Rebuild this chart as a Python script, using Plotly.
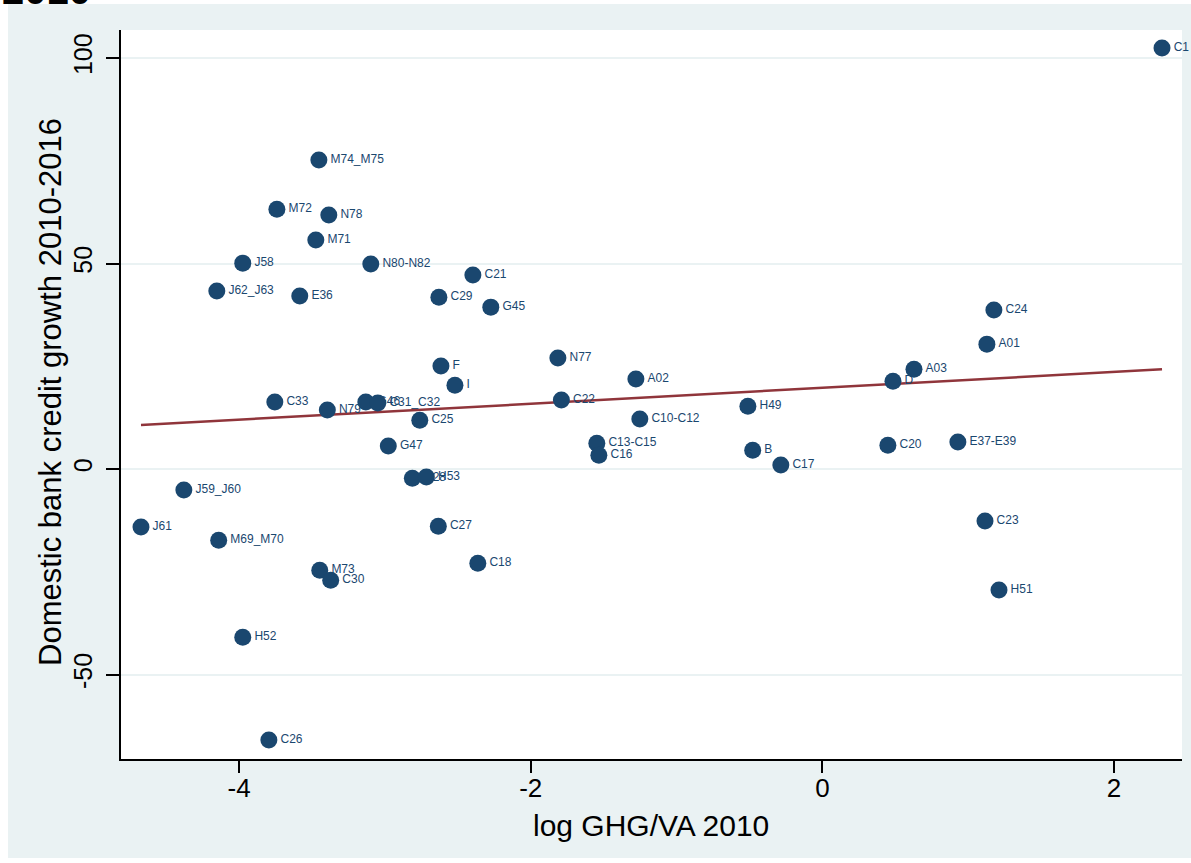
import numpy as np
import plotly.graph_objects as go

labels = ["C1", "M74_M75", "M72", "N78", "M71", "J58", "N80-N82", "C21", "J62_J63", "E36",
          "C29", "G45", "C24", "A01", "N77", "F", "A03", "A02", "D", "I",
          "C33", "G46", "C31_C32", "C22", "N79", "H49", "C25", "C10-C12", "C13-C15", "E37-E39",
          "C20", "G47", "B", "C16", "C17", "C28", "H53", "J59_J60", "C23", "J61",
          "C27", "M69_M70", "C18", "M73", "C30", "H51", "H52", "C26"]
log_ghg_va = [2.329, -3.453, -3.741, -3.385, -3.474, -3.975, -3.097, -2.397, -4.153, -3.584,
              -2.630, -2.274, 1.176, 1.128, -1.814, -2.616, 0.628, -1.279, 0.484, -2.520,
              -3.755, -3.131, -3.049, -1.790, -3.395, -0.511, -2.761, -1.252, -1.547, 0.929,
              0.449, -2.977, -0.478, -1.533, -0.285, -2.812, -2.716, -4.379, 1.115, -4.673,
              -2.634, -4.140, -2.363, -3.447, -3.372, 1.211, -3.975, -3.796]
credit_growth = [102.4, 75.2, 63.2, 61.8, 55.7, 50.1, 49.9, 47.2, 43.3, 42.1,
                 41.8, 39.4, 38.7, 30.4, 27.0, 25.1, 24.3, 21.9, 21.4, 20.4,
                 16.3, 16.3, 16.1, 16.8, 14.4, 15.3, 11.9, 12.2, 6.3, 6.6,
                 5.8, 5.6, 4.6, 3.4, 1.0, -2.2, -1.9, -5.1, -12.6, -14.1,
                 -13.9, -17.3, -22.9, -24.6, -27.0, -29.4, -40.9, -65.9]

x_ticks = [-4, -2, 0, 2]
y_ticks = [-50, 0, 50, 100]

NAVY = "#1A476F"
MAROON = "#90353B"
BG = "#EAF2F3"
FONT = "Arial, Liberation Sans, sans-serif"

xs = np.array(log_ghg_va)
ys = np.array(credit_growth)
slope, intercept = np.polyfit(xs, ys, 1)
fit_x = np.array([xs.min(), xs.max()])
fit_y = intercept + slope * fit_x

fig = go.Figure()
fig.add_trace(go.Scatter(
    x=fit_x, y=fit_y, mode="lines",
    line=dict(color=MAROON, width=2.5), showlegend=False, hoverinfo="skip"))
fig.add_trace(go.Scatter(
    x=log_ghg_va, y=credit_growth, mode="markers+text",
    text=labels, textposition="middle right",
    textfont=dict(family=FONT, size=12, color=NAVY),
    marker=dict(color=NAVY, size=17, line=dict(width=0)),
    cliponaxis=False, showlegend=False))

W, H = 1191, 863
L, R, T, B = 121, 9, 30, 104
pw, ph = W - L - R, H - T - B

def px_x(p):
    return (p - L) / pw

def px_y(p):
    return (H - B - p) / ph

shapes = [
    dict(type="rect", xref="paper", yref="paper", x0=px_x(-5), x1=px_x(W + 5),
         y0=px_y(4), y1=px_y(-5), fillcolor="white", line=dict(width=0), layer="below"),
    dict(type="rect", xref="paper", yref="paper", x0=px_x(-5), x1=px_x(8),
         y0=px_y(H + 5), y1=px_y(-5), fillcolor="white", line=dict(width=0), layer="below"),
    dict(type="rect", xref="paper", yref="paper", x0=px_x(-5), x1=px_x(W + 5),
         y0=px_y(H + 5), y1=px_y(858), fillcolor="white", line=dict(width=0), layer="below"),
]

annotations = [
    dict(text="<b>2010</b>", xref="paper", yref="paper", x=px_x(0), y=px_y(-10),
         xanchor="left", yanchor="middle", showarrow=False,
         font=dict(family=FONT, size=40, color="black")),
    dict(text="log GHG/VA 2010", xref="paper", yref="paper", x=px_x(651), y=px_y(825),
         xanchor="center", yanchor="middle", showarrow=False,
         font=dict(family=FONT, size=30, color="black")),
    dict(text="Domestic bank credit growth 2010-2016", xref="paper", yref="paper",
         x=px_x(50), y=px_y(392), xanchor="center", yanchor="middle", textangle=-90,
         showarrow=False, font=dict(family=FONT, size=31, color="black")),
]

fig.update_layout(
    width=W, height=H,
    margin=dict(l=L, r=R, t=T, b=B, autoexpand=False),
    paper_bgcolor=BG, plot_bgcolor="white",
    font=dict(family=FONT, color="black"),
    shapes=shapes,
    annotations=annotations,
    xaxis=dict(
        range=[-4.81, 2.466], tickvals=x_ticks, ticktext=[str(v) for v in x_ticks],
        showgrid=False, zeroline=False, showline=True, linecolor="black", linewidth=1.5,
        ticks="outside", ticklen=12, tickwidth=1.5, tickcolor="black",
        ticklabelstandoff=-7,
        tickfont=dict(family=FONT, size=26, color="black"),
    ),
    yaxis=dict(
        range=[-70.5, 106.8], tickvals=y_ticks, ticktext=[str(v) for v in y_ticks],
        tickangle=-90,
        showgrid=True, gridcolor=BG, gridwidth=2, zeroline=False,
        showline=True, linecolor="black", linewidth=1.5,
        ticks="outside", ticklen=13, tickwidth=1.5, tickcolor="black",
        ticklabelstandoff=4,
        tickfont=dict(family=FONT, size=25, color="black"),
    ),
)

fig.write_html("out.html", config={"displayModeBar": False},
               post_script="document.body.style.margin='0';document.body.style.overflow='hidden';")
